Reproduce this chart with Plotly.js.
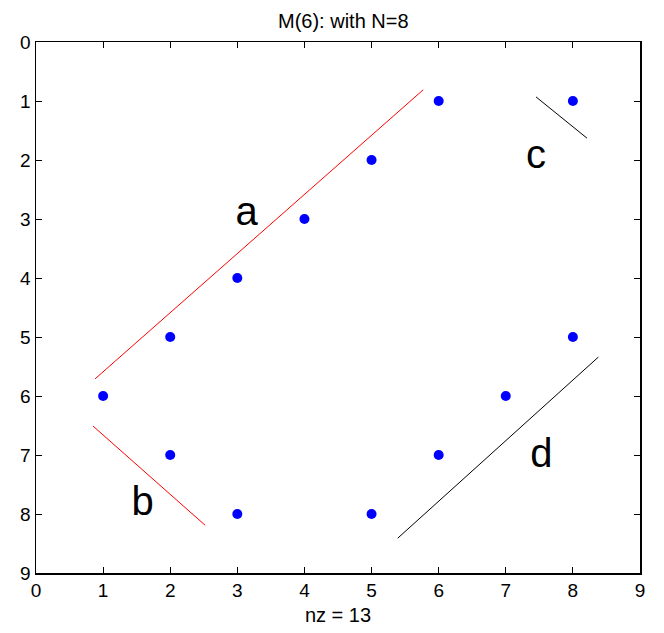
<!DOCTYPE html>
<html><head><meta charset="utf-8">
<script src="https://cdn.plot.ly/plotly-3.0.1.min.js"></script>
<style>html,body{margin:0;padding:0;background:#fff}</style>
</head><body>
<div id="chart" style="width:664px;height:633px"></div>
<script>
// nonzero entries (column, row)
const colIdx = [1, 2, 2, 3, 3, 4, 5, 5, 6, 6, 7, 8, 8];
const rowIdx = [6, 5, 7, 4, 8, 3, 2, 8, 1, 7, 6, 1, 5];
// annotation lines
const lineA_x = [0.88, 5.77], lineA_y = [5.71, 0.81];
const lineB_x = [0.85, 2.52], lineB_y = [6.51, 8.19];
const lineC_x = [7.45, 8.21], lineC_y = [0.93, 1.63];
const lineD_x = [5.39, 8.38], lineD_y = [8.41, 5.34];
const labelText = ['a', 'b', 'c', 'd'];
const labelX = [3.14, 1.59, 7.45, 7.53];
const labelY = [2.93, 7.85, 1.97, 7.03];
const tickVals = [0,1,2,3,4,5,6,7,8,9];

const FONT = 'Liberation Sans, Arial, sans-serif';

const traces = [
  {x: colIdx, y: rowIdx, mode: 'markers', type: 'scatter',
   marker: {color: '#0000ff', size: 10, line: {width: 0}}},
  {x: lineA_x, y: lineA_y, mode: 'lines', line: {color: '#ff0000', width: 1}},
  {x: lineB_x, y: lineB_y, mode: 'lines', line: {color: '#ff0000', width: 1}},
  {x: lineC_x, y: lineC_y, mode: 'lines', line: {color: '#000000', width: 1}},
  {x: lineD_x, y: lineD_y, mode: 'lines', line: {color: '#000000', width: 1}},
  {x: labelX, y: labelY, text: labelText, mode: 'text',
   textfont: {family: FONT, size: 40, color: '#000'},
   textposition: 'middle center'}
];

const axisCommon = {
  tickvals: tickVals, ticks: 'inside', ticklen: 6, tickwidth: 1, tickcolor: '#000',
  showline: true, linecolor: '#000', linewidth: 1.5, mirror: 'ticks',
  showgrid: false, zeroline: false,
  tickfont: {family: FONT, size: 19, color: '#000'}
};

const layout = {
  width: 664, height: 633,
  margin: {l: 36, r: 24, t: 42, b: 60},
  showlegend: false,
  paper_bgcolor: '#fff', plot_bgcolor: '#fff',
  title: {text: 'M(6): with N=8', xref: 'container', x: 0.517, xanchor: 'center',
          yref: 'container', y: 0.967, yanchor: 'middle',
          font: {family: FONT, size: 20, color: '#000'}},
  xaxis: Object.assign({}, axisCommon, {range: [0, 9],
          title: {text: 'nz = 13', standoff: 7,
                  font: {family: FONT, size: 20, color: '#000'}}}),
  yaxis: Object.assign({}, axisCommon, {range: [9, 0]})
};

Plotly.newPlot('chart', traces, layout, {displayModeBar: false, staticPlot: true});
</script>
</body></html>
